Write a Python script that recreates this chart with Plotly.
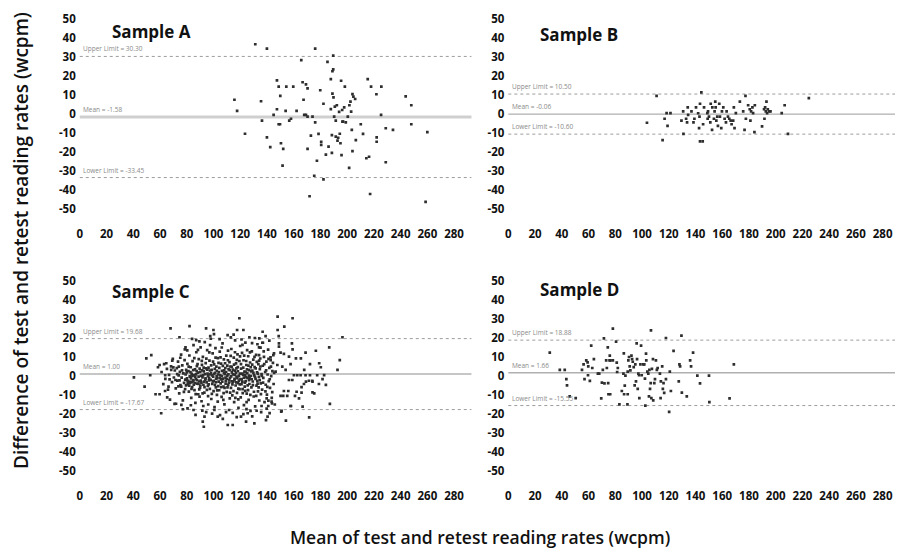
import plotly.graph_objects as go

# ---------------- data ----------------
x_ticks = [0, 20, 40, 60, 80, 100, 120, 140, 160, 180, 200, 220, 240, 260, 280]
y_ticks = [50, 40, 30, 20, 10, 0, -10, -20, -30, -40, -50]
y_tick_text = ["50", "40", "30", "20", "10", "0", "-10", "-20", "-30", "-40", "-50"]

sample_names = ["Sample A", "Sample B", "Sample C", "Sample D"]
means = [-1.58, -0.06, 1.00, 1.66]
upper_limits = [30.30, 10.50, 19.68, 18.88]
lower_limits = [-33.45, -10.60, -17.67, -15.55]

sample_a = [
    (115.7, 7.5), (117.7, 1.6), (123.6, -10.4), (131.3, 36.7), (135.6, 6.7), (136.3, -3.5),
    (140.0, 34.4), (140.0, -12.3), (142.5, -17.4), (145.0, -0.5), (147.5, 17.7), (147.5, 2.5),
    (148.8, 14.4), (148.8, -5.4), (149.8, -5.4), (150.0, 9.5), (150.5, -15.4), (151.7, -27.2),
    (152.2, -18.4), (154.0, 1.6), (154.5, 14.4), (156.7, -3.5), (158.0, -2.5), (159.7, 14.4),
    (162.2, 1.6), (165.7, 28.4), (166.7, 16.7), (167.4, 7.5), (167.9, -0.5), (169.2, 15.6),
    (169.2, -0.5), (170.4, 13.5), (170.4, -1.4), (170.4, -18.4), (171.9, -43.3), (172.9, -11.4),
    (174.1, -1.4), (175.4, -32.5), (176.1, 34.4), (176.1, -4.4), (177.4, -24.6), (178.6, -10.5),
    (179.9, 12.5), (180.6, -14.6), (180.6, -16.3), (182.3, 5.4), (182.3, -34.4), (184.1, -21.4),
    (185.3, 27.4), (186.1, -17.2), (187.8, 2.6), (187.8, 18.4), (188.6, -20.5), (188.6, -11.1),
    (189.0, 22.5), (189.0, 10.7), (189.6, 23.5), (189.6, 30.7), (189.8, 8.8), (190.3, -1.4),
    (190.8, 3.9), (191.5, -11.9), (191.5, -3.5), (192.3, 4.6), (192.8, -14.0), (193.3, -12.5),
    (194.0, 1.1), (194.5, -10.4), (195.0, -15.4), (195.5, 17.5), (195.8, -21.6), (196.3, 2.1),
    (196.5, -4.0), (197.0, -4.0), (197.8, 3.5), (198.3, 14.4), (199.0, -4.4), (200.5, -1.4),
    (201.5, -28.4), (201.7, 4.6), (202.5, 6.5), (203.0, 1.2), (203.5, -8.4), (204.0, 10.5),
    (204.0, -19.5), (204.7, 9.1), (206.0, 7.9), (206.5, -13.7), (210.2, -5.4), (211.9, -10.5),
    (214.4, -23.3), (215.4, 18.4), (216.4, -22.5), (217.2, -42.1), (217.9, 14.4), (221.9, 10.4),
    (222.1, -12.3), (222.1, -14.6), (225.4, -0.5), (225.6, 14.4), (228.9, -25.4), (228.9, -7.5),
    (234.3, -8.4), (243.8, 9.3), (248.0, 4.6), (248.0, -5.4), (258.7, -46.3), (260.0, -9.5),
]

sample_b = [
    (103.7, -4.6), (110.9, 9.5), (115.4, -13.7), (116.9, -2.5), (118.4, 0.5), (119.1, -6.3),
    (121.3, 0.5), (129.5, -3.5), (130.8, 1.4), (131.0, -10.5), (133.0, -2.5), (133.7, -4.4),
    (134.2, 3.5), (134.5, -0.5), (137.0, 1.4), (138.5, -4.4), (139.2, -2.5), (140.4, 3.5),
    (142.0, 0.4), (142.7, -7.4), (143.0, -1.4), (143.4, 5.4), (143.4, -14.4), (144.4, 11.4),
    (145.4, -14.4), (145.7, -5.4), (146.4, 3.5), (148.9, 0.5), (149.1, -2.5), (149.4, 1.4),
    (150.1, -1.4), (151.1, -4.4), (151.4, 5.4), (152.4, -8.4), (152.6, 3.5), (153.8, -2.5),
    (154.3, 1.4), (154.8, 6.5), (155.1, 3.5), (155.6, -3.5), (156.3, -1.4), (156.8, -6.3),
    (157.8, 5.4), (158.3, -1.4), (159.3, -7.4), (159.8, 1.4), (160.8, 3.5), (161.8, -2.5),
    (162.8, -4.4), (163.3, 1.4), (164.3, -1.4), (165.3, -2.5), (166.3, -3.5), (167.0, -5.4),
    (168.2, -3.5), (168.7, 3.5), (169.2, -7.4), (170.2, 0.5), (173.2, 6.5), (175.7, 1.4),
    (176.7, -8.4), (177.4, 9.5), (177.7, -2.5), (179.4, 4.6), (180.6, 2.5), (181.1, -3.5),
    (181.6, 1.4), (182.6, 3.5), (183.1, 0.5), (184.1, -9.5), (184.4, 4.6), (189.8, -6.5),
    (191.3, 2.5), (191.6, -2.5), (192.1, 3.5), (192.6, 1.4), (193.1, 6.5), (193.6, 0.5),
    (194.1, 2.5), (195.1, 1.4), (196.1, 1.4), (204.5, 0.5), (206.7, 4.6), (209.2, -10.5),
    (224.8, 8.4),
]

sample_c = [
    # sparse outer points
    (40.5, -0.7), (48.5, -5.6), (49.8, 9.3), (53.5, 11.0), (52.7, 0.4), (56.7, -9.6),
    (59.7, -9.6), (60.9, -19.6), (58.5, 4.6), (59.7, 5.8), (63.9, 0.4), (64.7, 6.7),
    (66.4, -5.6), (65.4, -11.2), (67.9, 25.1), (68.4, 3.2), (69.2, 8.1), (70.9, -14.7),
    (71.6, -2.1), (74.6, 20.4), (74.1, 4.9), (75.9, -5.6), (77.1, -17.5), (79.1, 15.1),
    (82.1, 26.3), (82.6, -0.4), (85.1, -17.9), (86.6, -20.5), (87.1, 18.9), (89.6, -10.9),
    (92.0, -24.0), (92.8, -26.7), (93.3, -21.4), (94.5, 25.1), (100.7, -17.9), (100.0, 24.2),
    (103.2, -21.4), (107.0, -22.6), (110.7, -25.8), (114.4, -25.8), (117.7, 24.2), (119.4, 30.4),
    (120.6, -21.4), (122.4, 24.2), (124.4, -24.0), (125.6, -19.6), (126.9, 20.4), (130.6, -24.9),
    (134.3, 19.8), (136.8, 23.3), (139.3, -23.2), (140.5, -21.4), (141.8, 18.6), (143.8, -14.4),
    (148.0, 31.2), (148.0, 24.2), (148.8, 21.0), (150.7, -18.8), (153.0, 26.0), (154.2, -23.5),
    (159.2, 30.4), (158.7, 17.2), (159.2, 14.0), (158.0, -15.8), (161.7, 9.3), (165.4, 9.3),
    (166.7, -16.1), (167.9, 3.2), (169.2, -3.0), (171.6, -21.8), (174.1, -3.0), (175.4, -9.1),
    (176.6, 13.3), (179.1, 6.7), (180.3, 4.6), (181.6, -1.6), (182.8, 0.5), (184.1, -4.7),
    (186.6, 15.1), (187.1, -14.7), (192.8, 3.2), (194.5, 8.4), (196.5, 20.4),
    (139.0, 21.0), (168.9, 12.3), (149.0, 17.2), (149.0, 15.5), (150.2, 12.3), (152.7, 11.6),
    (156.5, 10.2), (172.2, 6.3), (157.7, 6.3), (151.5, 4.9), (147.8, 5.8), (146.5, 2.3),
    (154.0, 3.2), (160.2, 0.4), (162.7, 0.4), (165.2, 0.4), (168.9, 0.4), (172.2, 0.4),
    (177.6, 0.4), (156.5, -2.1), (159.0, -2.1), (171.4, -2.5), (173.9, -2.5), (167.7, -4.2),
    (178.9, -4.2), (152.7, -7.9), (156.0, -7.9), (162.2, -8.3), (165.9, -5.9), (165.9, -8.8),
    (174.1, -8.6), (150.2, -10.5), (152.2, -10.5), (155.2, -10.5), (161.0, -10.5), (164.0, -11.8),
    (139.8, -11.8), (143.5, -13.5), (136.0, -15.8), (141.0, -15.8), (157.7, -15.8), (151.0, -18.4),
    (136.6, 17.5), (134.1, 15.1), (142.8, 8.4), (145.3, 11.9), (134.1, 11.0),
    # dense core
    (61.2, 2.1), (62.5, -4.3), (63.1, 6.2), (64.0, -1.5), (65.2, 3.8), (66.0, -7.2), (66.8, 0.6),
    (67.5, -12.4), (68.3, 5.1), (69.0, -3.2), (69.6, 9.0), (70.4, -0.8), (71.1, 2.9), (71.8, -6.5),
    (72.0, -14.6),
    (72.6, 4.1), (73.0, -2.4), (73.5, 7.6), (74.0, 0.3), (74.4, -9.1), (74.9, 2.2), (75.3, -4.8),
    (75.8, 11.2), (76.2, -0.9), (76.7, 5.6), (77.1, -12.8), (77.5, 1.4), (78.0, -3.6), (78.4, 8.4),
    (78.8, -6.9), (79.2, 0.8), (79.6, 3.3), (79.9, -2.0), (73.8, -5.5), (76.0, -15.2), (78.6, 14.0),
    (80.2, -1.2), (80.5, 6.4), (80.9, -4.4), (81.3, 2.6), (81.6, -8.2), (82.0, 10.8), (82.3, -0.2),
    (82.7, -3.1), (83.0, 4.6), (83.4, -11.5), (83.7, 1.1), (84.1, -5.8), (84.4, 7.8), (84.8, -2.7),
    (85.1, 16.3), (85.5, 0.5), (85.8, -7.4), (86.2, 3.5), (86.5, -14.1), (86.9, -1.6), (87.2, 12.5),
    (87.6, 5.2), (87.9, -4.0), (81.0, -2.5), (82.5, -3.6), (83.9, -3.2), (85.0, -2.2), (86.0, -3.8),
    (87.0, 0.9), (84.0, 19.5), (80.6, -17.0),
    (88.3, 1.8), (88.6, -9.6), (89.0, 8.9), (89.3, -2.9), (89.7, 3.9), (90.0, -6.1), (90.4, 15.1),
    (90.7, 0.1), (91.1, -13.3), (91.4, 5.9), (91.8, -0.7), (92.1, 10.1), (92.5, -4.6), (92.8, 2.4),
    (93.2, -8.7), (93.5, 17.8), (93.9, -1.9), (94.2, 6.8), (94.6, -19.0), (94.9, -3.4), (95.3, 13.6),
    (95.6, 1.3), (96.0, -10.6), (88.8, -4.2), (90.2, -5.0), (91.6, 3.0), (93.0, -3.0), (94.4, 4.0),
    (95.8, -5.2), (89.5, 18.2), (92.4, -15.8),
    (96.3, 4.4), (96.6, -2.3), (97.0, 8.1), (97.3, -6.8), (97.7, 0.9), (98.0, 19.6), (98.4, -12.1),
    (98.7, 3.2), (99.1, -4.1), (99.4, 11.9), (99.8, -0.4), (100.1, -8.0), (100.5, 6.1), (100.8, -16.4),
    (101.2, 1.7), (101.5, 14.7), (101.9, -3.3), (102.2, 4.9), (102.6, -9.9), (102.9, -1.1), (103.3, 9.4),
    (103.6, -5.3), (104.0, 2.0), (97.5, 16.2), (99.0, -19.8), (100.4, 22.0), (101.8, -6.0), (103.2, -13.5),
    (96.8, -1.0), (98.2, 1.5), (99.6, -2.8), (101.0, 3.8), (102.4, -0.2), (103.8, 6.9),
    (104.3, -7.5), (104.7, 12.8), (105.0, 0.4), (105.4, -3.9), (105.7, 6.5), (106.1, -11.0), (106.4, 2.7),
    (106.8, 17.2), (107.1, -1.4), (107.5, -5.6), (107.8, 8.8), (108.2, -14.9), (108.5, 1.0), (108.9, 4.2),
    (109.2, -2.6), (109.6, 10.7), (109.9, -8.4), (110.3, 0.2), (110.6, 21.5), (111.0, -4.7), (111.3, 3.6),
    (111.7, -17.9), (112.0, 7.3), (104.9, -20.6), (106.2, 15.0), (107.6, -9.0), (109.0, -0.9), (110.4, 5.5),
    (111.8, -2.1), (105.6, -1.8), (108.0, 3.0), (110.9, 13.4), (112.2, -11.8),
    (112.4, -1.0), (112.7, 5.0), (113.1, -6.2), (113.4, 14.2), (113.8, 1.9), (114.1, -10.2), (114.5, 3.4),
    (114.8, -3.0), (115.2, 9.7), (115.5, -13.8), (115.9, 0.6), (116.2, 18.8), (116.6, -5.0), (116.9, 6.6),
    (117.3, -0.3), (117.6, -8.9), (118.0, 11.4), (118.3, 2.5), (118.7, -16.8), (119.0, -2.4), (119.4, 7.9),
    (119.7, -4.4), (120.0, 15.8), (113.0, 20.3), (114.4, -19.4), (115.8, -1.5), (117.2, 4.0), (118.6, -6.6),
    (119.8, 1.2), (113.6, -2.8), (116.0, 2.8), (118.4, -3.8),
    (120.4, -11.2), (120.7, 3.9), (121.1, -1.8), (121.4, 12.2), (121.8, -6.9), (122.1, 0.7), (122.5, 8.3),
    (122.8, -15.3), (123.2, 2.3), (123.5, -3.5), (123.9, 17.6), (124.2, -0.6), (124.6, 5.8), (124.9, -9.3),
    (125.3, 1.5), (125.6, -4.9), (126.0, 10.4), (126.3, -12.6), (126.7, 3.1), (127.0, -1.2), (127.4, 7.1),
    (127.7, -18.4), (128.0, 0.0), (121.0, 19.2), (122.4, -20.1), (123.8, -7.8), (125.2, 13.6), (126.6, -2.2),
    (127.9, 4.6), (121.6, -3.0), (124.0, 2.0),
    (128.4, -6.0), (128.7, 13.0), (129.1, 2.8), (129.4, -2.9), (129.8, 8.6), (130.1, -10.8), (130.5, 0.3),
    (130.8, 4.7), (131.2, -16.0), (131.5, -1.5), (131.9, 11.1), (132.2, -5.1), (132.6, 1.9), (132.9, 16.7),
    (133.3, -8.1), (133.6, 6.2), (134.0, -0.5), (134.3, -12.9), (134.7, 3.6), (135.0, 9.2), (135.4, -3.9),
    (135.7, -19.0), (136.0, 1.0), (129.0, -21.3), (131.0, 20.0), (133.0, -4.0), (135.2, 14.9),
    (136.4, -7.2), (136.9, 5.4), (137.3, -1.0), (137.8, 10.1), (138.2, -13.7), (138.7, 2.1), (139.1, -4.6),
    (139.6, 7.6), (140.0, -9.8), (140.5, 0.8), (140.9, 13.9), (141.4, -2.7), (141.8, 4.3), (142.3, -6.3),
    (142.7, 9.8), (143.2, -0.1), (143.6, -11.5), (144.1, 2.6), (144.5, 6.9), (145.0, -4.2), (145.4, 1.6),
    (145.9, -15.0), (137.0, 17.5), (139.8, -17.2), (142.0, -19.5), (144.8, 11.0),
    # further core points
    (78.9, -1.9), (79.5, -4.9), (80.0, 1.9), (80.8, -3.4), (81.5, 4.9), (81.9, -5.1), (82.8, 2.0),
    (83.2, -1.3), (83.6, -6.8), (84.3, 0.0), (84.9, 3.1), (85.3, -4.6), (85.7, 9.4), (86.4, -0.4),
    (86.7, -9.5), (87.4, 2.6), (87.8, -2.2), (88.1, 6.3), (88.9, -0.3), (89.4, -7.0), (90.1, 2.2),
    (90.5, -2.4), (91.0, -3.5), (91.3, 8.0), (91.9, -9.1), (92.3, 0.5), (92.7, 4.4), (93.3, -5.9),
    (93.7, 1.0), (94.1, -1.2), (94.7, 9.1), (95.1, -7.3), (95.4, 3.3), (95.9, -0.1), (96.4, -4.4),
    (96.9, 12.4), (97.4, 2.9), (97.9, -2.0), (98.3, 5.6), (98.8, -9.4), (99.2, 0.3), (99.7, 7.6),
    (100.2, -2.6), (100.6, 1.1), (101.1, -4.7), (101.6, 9.7), (102.0, -1.5), (102.5, 2.7), (102.8, -7.6),
    (103.4, 0.8), (103.9, -3.0), (104.4, 4.3), (104.8, -1.0), (105.3, 9.8), (105.8, -5.9), (106.3, 0.0),
    (106.6, -3.0), (107.0, 5.3), (107.4, -12.6), (107.9, 1.6), (108.3, -6.2), (108.7, 6.7), (109.1, -4.0),
    (109.5, 2.1), (110.0, -1.5), (110.5, -6.0), (110.8, 8.3), (111.2, 0.9), (111.6, -3.5), (112.1, 3.1),
    (112.5, -8.7), (112.9, 10.6), (113.3, -0.2), (113.7, 4.8), (114.2, -4.4), (114.6, 0.9), (115.0, -8.0),
    (115.4, 6.0), (115.7, -2.2), (116.1, 12.5), (116.4, -11.5), (116.8, 1.6), (117.1, -3.4), (117.5, 8.5),
    (117.9, -1.1), (118.2, 4.7), (118.6, -12.3), (119.1, 0.1), (119.5, -6.9), (119.9, 10.3), (120.2, -1.6),
    (120.6, 6.2), (121.0, -4.3), (121.5, 1.3), (121.9, -9.0), (122.3, 4.4), (122.7, -0.9), (123.0, 10.7),
    (123.4, -5.6), (123.7, 0.4), (124.1, -2.7), (124.5, 7.9), (124.8, -13.8), (125.1, 3.5), (125.5, -1.0),
    (125.9, -7.4), (126.2, 5.5), (126.5, 0.2), (126.9, -4.2), (127.3, 12.4), (127.6, -9.9), (128.2, 2.4),
    (128.6, -1.7), (129.0, 6.0), (129.5, -4.8), (129.9, 1.6), (130.3, -8.3), (130.7, 10.1), (131.1, -0.5),
    (131.6, 4.0), (132.0, -10.5), (132.4, 7.4), (132.8, -2.6), (133.2, 1.2), (133.8, -6.0), (134.2, 8.1),
    (134.6, -2.2), (135.1, 5.0), (135.5, -9.5), (136.2, 0.0), (137.1, -3.5), (138.0, 6.3), (138.9, -8.1),
    (139.4, 3.0), (140.3, -5.7), (141.2, 9.0), (142.1, -1.7), (143.0, 4.9), (144.0, -8.5), (76.5, 3.0),
    (77.9, -8.4), (74.6, -2.3), (72.9, 1.0), (70.0, 4.5), (67.2, -1.8), (63.8, -7.9), (75.2, 9.6),
    (80.4, 13.5), (83.1, -15.4), (88.4, 13.8), (91.7, -18.2), (96.1, -15.0), (97.6, 21.0), (104.6, 19.4),
    (109.4, -19.0), (115.1, 21.8), (117.4, -21.6), (121.7, 16.4), (124.7, -17.4), (128.9, 17.3),
    (132.3, -18.3), (137.6, 13.0), (141.1, -13.0),
]

sample_d = [
    (31.0, 12.3), (38.5, 3.2), (42.2, 3.2), (43.4, -1.6), (43.9, -4.9), (45.9, -10.7), (50.4, -11.6),
    (55.1, 3.2), (56.3, 6.1), (57.0, -1.6), (58.3, 8.2), (59.3, 7.2), (59.6, 0.4), (59.8, 5.1),
    (61.0, -2.6), (62.0, 16.0), (62.8, 4.2), (64.0, 8.9), (67.0, 1.2), (68.0, 1.2), (69.5, -11.8),
    (70.0, -3.5), (70.7, 3.2), (71.5, 19.8), (71.9, -3.9), (73.2, 8.2), (73.7, 4.2), (74.4, 15.1),
    (74.7, -3.7), (74.9, -9.6), (75.7, 8.2), (75.9, 10.7), (76.2, -9.6), (76.4, 8.2), (78.2, 24.9),
    (78.2, 8.2), (80.6, 18.1), (81.1, 7.0), (81.4, 2.1), (81.9, 4.2), (83.1, -14.9), (84.9, -7.9),
    (86.1, 1.2), (86.4, 11.9), (86.6, -9.6), (87.1, -5.1), (87.6, 0.2), (89.1, -14.9), (89.3, -9.6),
    (89.3, 2.3), (89.8, 8.2), (90.3, 10.0), (90.8, 5.1), (91.3, 3.0), (92.1, 10.7), (92.6, 8.9),
    (93.1, 7.5), (93.8, 4.7), (94.5, -4.9), (95.0, 6.1), (95.5, -2.8), (96.0, 17.2), (96.3, 8.9),
    (96.8, -6.8), (97.3, 1.2), (97.8, 0.4), (98.0, -11.6), (98.8, 6.1), (99.3, 16.0), (99.8, 0.4),
    (101.0, 6.1), (101.7, 6.1), (102.2, -1.4), (102.5, -15.6), (103.0, 11.8), (103.2, 8.2), (104.0, 2.3),
    (104.7, 1.2), (105.2, -10.7), (105.5, 3.2), (106.0, -6.8), (106.5, -3.7), (106.7, 24.0), (107.0, -11.6),
    (107.4, 3.7), (108.2, 8.9), (108.4, -12.8), (109.2, -3.7), (109.7, -1.6), (110.4, 8.2), (111.1, 3.2),
    (111.7, 4.2), (113.4, 1.2), (113.9, -11.6), (114.1, -2.8), (115.1, 5.1), (115.6, -6.8), (116.1, -3.7),
    (116.6, -8.9), (117.9, -1.6), (117.9, 20.0), (120.3, -18.9), (120.8, 2.3), (121.6, -7.9), (123.6, 13.2),
    (127.5, -2.8), (128.0, 6.1), (128.5, 5.1), (129.5, 21.2), (129.8, -8.8), (133.5, -10.7), (136.0, 8.2),
    (136.7, 5.1), (138.2, 12.3), (141.4, 0.2), (143.4, -3.9), (150.1, 0.2), (150.4, -13.7), (165.5, -11.8),
    (168.7, 6.1),
]

# ---------------- layout geometry ----------------
# the html page has an 8px body margin, so the figure starts 8px in from the window corner
PAD = 8
W, H = 903 - PAD, 548 - PAD


def fx(px):
    return (px - PAD) / W


def fy(py):
    return 1 - (py - PAD) / H


x_dom = [[fx(77), fx(470)], [fx(507), fx(900)], [fx(77), fx(470)], [fx(507), fx(900)]]
y_dom = [[fy(216.6), fy(9.5)], [fy(216.6), fy(9.5)], [fy(478.6), fy(271.5)], [fy(478.6), fy(271.5)]]
title_pos = [(107, 32), (537, 34), (107, 291), (537, 289)]
mean_styles = [("#cfcfcf", 3), ("#9a9a9a", 1), ("#c6c6c6", 2), ("#b0b0b0", 1.5)]

samples = [sample_a, sample_b, sample_c, sample_d]

fig = go.Figure()
tick_font = dict(family="Open Sans", size=11.5, color="#111111", weight=700)
shapes, annotations = [], []

for i, pts in enumerate(samples):
    n = "" if i == 0 else str(i + 1)
    xa, ya = "x" + n, "y" + n
    fig.add_trace(go.Scatter(
        x=[p[0] for p in pts], y=[p[1] for p in pts], mode="markers",
        xaxis=xa, yaxis=ya, showlegend=False, hoverinfo="skip",
        marker=dict(symbol="square", size=2.7, color="#2e2e2e", line=dict(width=0)),
    ))
    fig.layout["xaxis" + n] = dict(
        domain=x_dom[i], range=[0, 293], anchor=ya, tickvals=x_ticks,
        showgrid=False, zeroline=False, showline=False, ticks="",
        tickfont=tick_font, ticklabelstandoff=9,
    )
    fig.layout["yaxis" + n] = dict(
        domain=y_dom[i], range=[-54, 55], anchor=xa, tickvals=y_ticks, ticktext=y_tick_text,
        showgrid=False, zeroline=False, showline=False, ticks="",
        tickfont=tick_font, ticklabelstandoff=3,
    )
    mc, mw = mean_styles[i]
    shapes.append(dict(type="line", xref=xa + " domain", yref=ya, x0=0, x1=1,
                       y0=means[i], y1=means[i], line=dict(color=mc, width=mw), layer="below"))
    for v in (upper_limits[i], lower_limits[i]):
        shapes.append(dict(type="line", xref=xa + " domain", yref=ya, x0=0, x1=1,
                           y0=v, y1=v, line=dict(color="#9c9c9c", width=1, dash="dot"), layer="below"))
    for label, v in (("Upper Limit = %.2f" % upper_limits[i], upper_limits[i]),
                     ("Mean = %.2f" % means[i], means[i]),
                     ("Lower Limit = %.2f" % lower_limits[i], lower_limits[i])):
        annotations.append(dict(text=label, xref=xa + " domain", yref=ya, x=0.003, y=v,
                                xanchor="left", yanchor="bottom", yshift=1, showarrow=False,
                                font=dict(family="Open Sans", size=6.5, color="#8a8a8a")))
    tx, ty = title_pos[i]
    annotations.append(dict(text=sample_names[i], xref="paper", yref="paper", x=fx(tx), y=fy(ty),
                            xanchor="left", yanchor="middle", showarrow=False,
                            font=dict(family="Open Sans", size=17, color="#111111", weight="bold")))

annotations.append(dict(text="Difference of test and retest reading rates (wcpm)", xref="paper", yref="paper",
                        x=fx(18), y=fy(240), textangle=-90, showarrow=False,
                        xanchor="center", yanchor="middle",
                        font=dict(family="Open Sans", size=19, color="#111111", weight=600)))
annotations.append(dict(text="Mean of test and retest reading rates (wcpm)", xref="paper", yref="paper",
                        x=fx(479), y=fy(537), showarrow=False, xanchor="center", yanchor="middle",
                        font=dict(family="Open Sans", size=17.5, color="#111111", weight=600)))

fig.update_layout(width=W, height=H, margin=dict(l=0, r=0, t=0, b=0),
                  paper_bgcolor="white", plot_bgcolor="white",
                  shapes=shapes, annotations=annotations)

fig.write_html("out.html")
